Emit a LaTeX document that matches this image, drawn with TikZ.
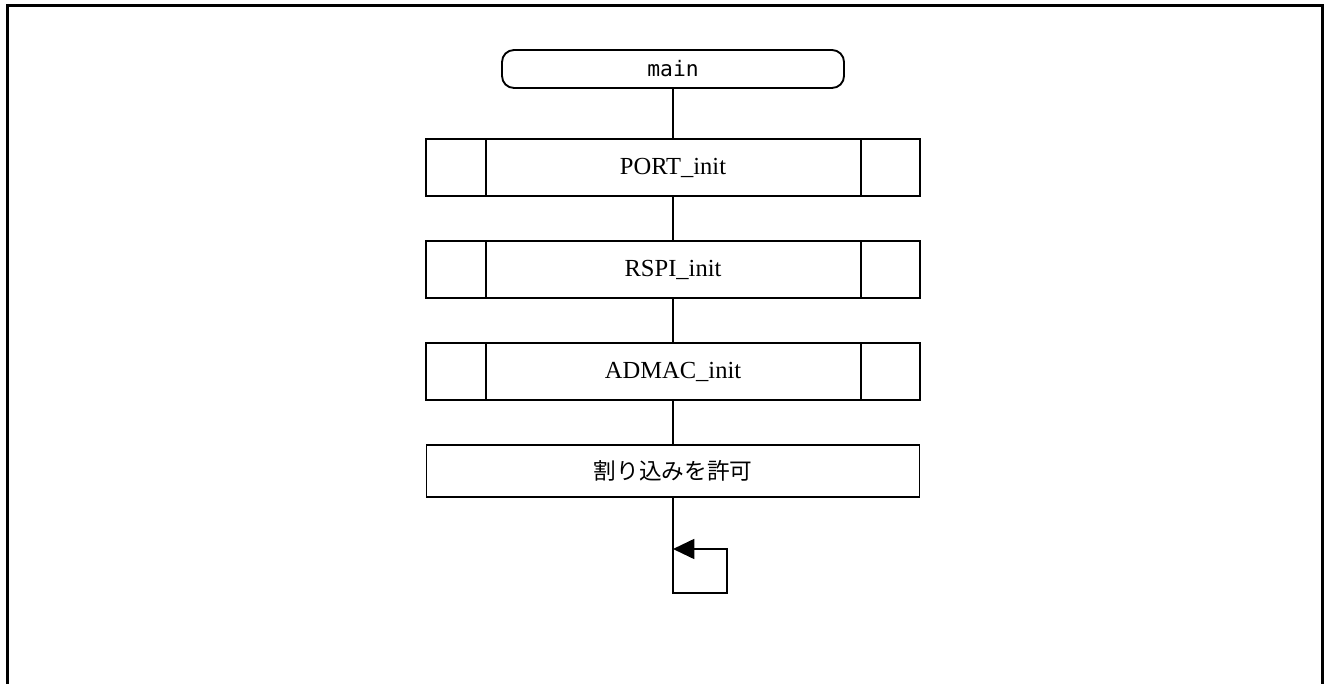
\documentclass[tikz,border=0pt]{standalone}
\usepackage{fontspec}
\setmainfont{Liberation Serif}
\newfontfamily\jpfont{Noto Sans CJK JP}
\newfontfamily\codefont{DejaVu Sans Mono}
\usepackage{tikz}
\usetikzlibrary{arrows.meta,positioning}

\begin{document}
\begin{tikzpicture}[x=0.75pt, y=-0.75pt,
        term/.style={draw, line width=1.4pt, outer sep=0pt, rounded corners=9pt, minimum width=256.5pt, minimum height=28.5pt, font=\codefont\fontsize{16}{18}\selectfont},
        subr/.style={draw, line width=1.4pt, outer sep=0pt, minimum width=370.5pt, minimum height=42.75pt, font=\fontsize{18.4}{21}\selectfont},
        proc/.style={draw, line width=1.4pt, outer sep=0pt, minimum width=369.75pt, minimum height=39pt, font=\jpfont\fontsize{17}{20}\selectfont},
        flow/.style={line width=1.4pt},
        loopback/.style={line width=1.4pt, -{Triangle[length=16pt,width=15pt]}},
        frame/.style={line width=2.25pt}
    ]
        \useasboundingbox (0,0) rectangle (1324,684);
        \draw[frame] (7,684) -- (7,6) -- (1322.5,6) -- (1322.5,684);

        \node[term] (main) at (673,69) {main};
        \node[subr, below=38.25pt of main] (port) {PORT\_init};
        \node[subr, below=33.75pt of port] (rspi) {RSPI\_init};
        \node[subr, below=33.75pt of rspi] (admac) {ADMAC\_init};
        \node[proc, below=33.75pt of admac] (allow) {割り込みを許可};

        \foreach \n in {port,rspi,admac} {
            \draw[flow] ([xshift=45pt]\n.north west) -- ([xshift=45pt]\n.south west);
            \draw[flow] ([xshift=-44.25pt]\n.north east) -- ([xshift=-44.25pt]\n.south east);
        }

        \coordinate (loopbot) at (673,593);
        \coordinate (looptop) at (727,549);
        \coordinate (loopend) at (673,549);

        \draw[flow] (main) -- (port);
        \draw[flow] (port) -- (rspi);
        \draw[flow] (rspi) -- (admac);
        \draw[flow] (admac) -- (allow);
        \draw[loopback] (allow.south) -- (loopbot) -| (looptop) -- (loopend);
    \end{tikzpicture}
\end{document}
